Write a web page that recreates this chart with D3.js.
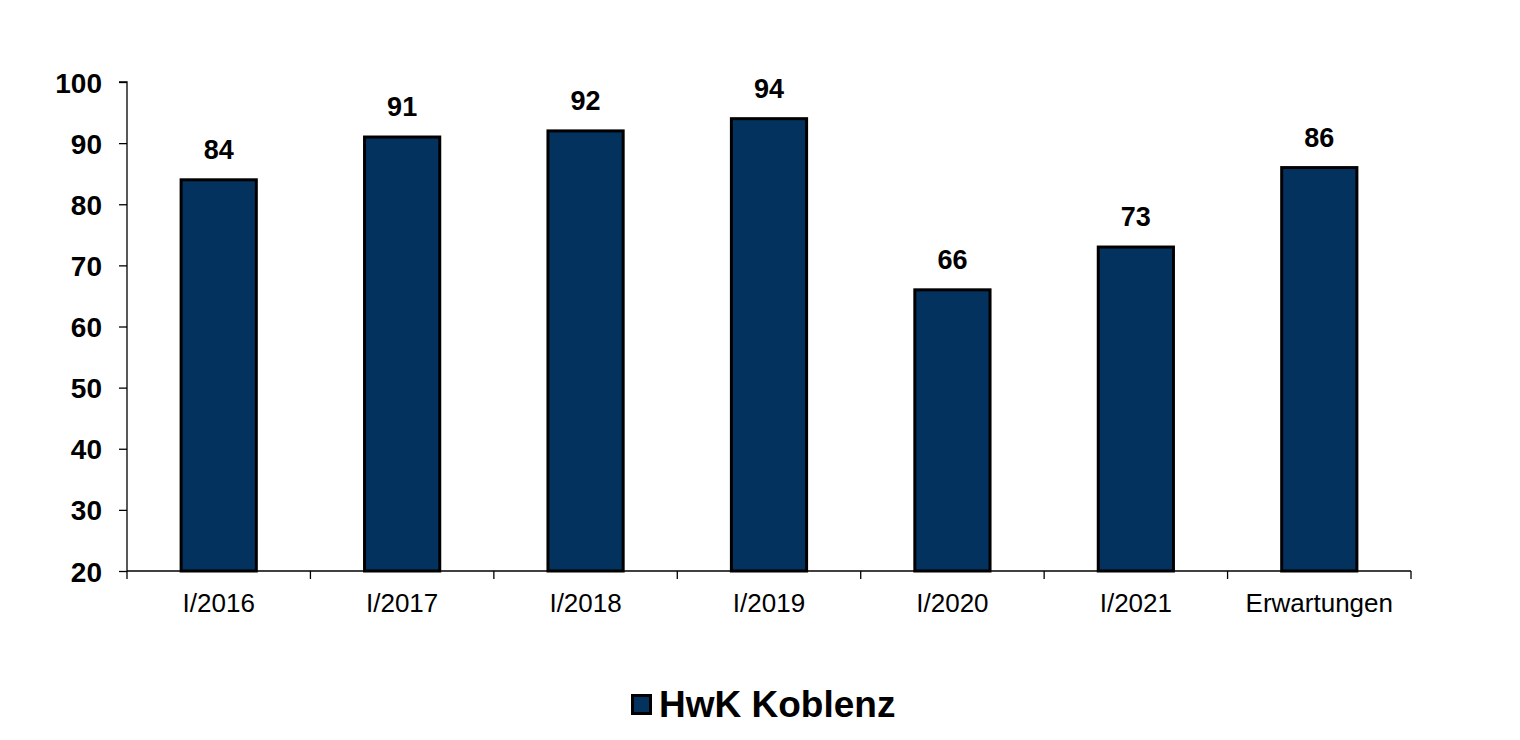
<!DOCTYPE html>
<html><head><meta charset="utf-8">
<script src="https://cdn.jsdelivr.net/npm/d3@7"></script>
<style>body{margin:0;background:#fff}svg{display:block}text{font-family:"Liberation Sans",Arial,sans-serif}</style>
</head><body>
<svg id="c" width="1520" height="740"></svg>
<script>
const categories = ["I/2016","I/2017","I/2018","I/2019","I/2020","I/2021","Erwartungen"];
const values = [84, 91, 92, 94, 66, 73, 86];
const yTicks = [20,30,40,50,60,70,80,90,100];
const seriesName = "HwK Koblenz";

const svg = d3.select("#c");
const L = 127, R = 1411, T = 82, B = 571;
const x = d3.scaleBand().domain(categories).range([L, R]).paddingInner(0.59).paddingOuter(0.295);
const y = d3.scaleLinear().domain([20, 100]).range([B, T]);

// y axis
const ya = svg.append("g").attr("transform", `translate(${L},0)`)
  .call(d3.axisLeft(y).tickValues(yTicks).tickSize(8).tickPadding(17));
ya.select(".domain").attr("stroke","#000").attr("stroke-width",1.3).attr("d", `M-8,${T}H0V${B}`);
ya.selectAll(".tick line").attr("stroke","#000").attr("stroke-width",1.3);
ya.selectAll(".tick text").attr("font-size",28).attr("font-weight","bold").attr("fill","#000").attr("dy","0.36em");

// bars
svg.append("g").selectAll("rect").data(values).join("rect")
  .attr("x",(d,i)=>x(categories[i])).attr("width",x.bandwidth())
  .attr("y",d=>y(d)).attr("height",d=>B-y(d))
  .attr("fill","#03325f").attr("stroke","#000").attr("stroke-width",3);

// x axis
const xa = svg.append("g").attr("transform",`translate(0,${B})`);
xa.append("line").attr("x1",L).attr("x2",R).attr("stroke","#000").attr("stroke-width",1.3);
const bounds = d3.range(categories.length+1).map(i=>L + i*(R-L)/categories.length);
xa.selectAll("line.t").data(bounds).join("line").attr("class","t")
  .attr("x1",d=>d).attr("x2",d=>d).attr("y1",0).attr("y2",8).attr("stroke","#000").attr("stroke-width",1.3);
xa.selectAll("text").data(categories).join("text")
  .attr("x",d=>x(d)+x.bandwidth()/2).attr("y",41).attr("text-anchor","middle")
  .attr("font-size",26).attr("fill","#000").text(d=>d);

// value labels
svg.append("g").selectAll("text").data(values).join("text")
  .attr("x",(d,i)=>x(categories[i])+x.bandwidth()/2).attr("y",d=>y(d)-21)
  .attr("text-anchor","middle").attr("font-size",27).attr("font-weight","bold").attr("fill","#000").text(d=>d);

// legend
const lg = svg.append("g").attr("transform","translate(631,694)");
lg.append("rect").attr("x",1.5).attr("y",1.5).attr("width",18).attr("height",18).attr("fill","#03325f").attr("stroke","#000").attr("stroke-width",3);
lg.append("text").attr("x",28).attr("y",23).attr("font-size",37).attr("font-weight","bold").attr("fill","#000").text(seriesName);
</script>
</body></html>
